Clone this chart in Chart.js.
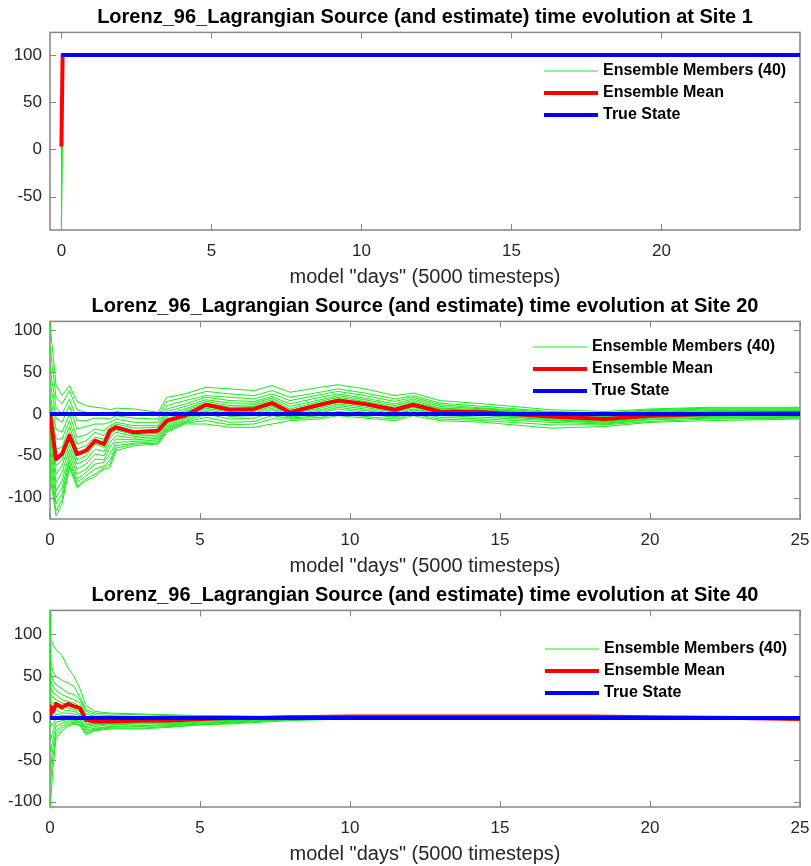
<!DOCTYPE html>
<html>
<head>
<meta charset="utf-8">
<title>Lorenz_96_Lagrangian source estimates</title>
<script src="https://cdn.jsdelivr.net/npm/chart.js@4.4.1/dist/chart.umd.min.js"></script>
<style>
  html, body { margin: 0; padding: 0; background: #fff; }
  #wrap { position: relative; width: 811px; height: 866px; }
  canvas { position: absolute; left: 0; }
</style>
</head>
<body>
<div id="wrap">
  <canvas id="site1" width="811" height="289" style="top:0"></canvas>
  <canvas id="site20" width="811" height="289" style="top:289px"></canvas>
  <canvas id="site40" width="811" height="288" style="top:578px"></canvas>
</div>
<script>
const xLabel = 'model "days" (5000 timesteps)';
const memberLabel = "Ensemble Members (40)";
const meanLabel = "Ensemble Mean";
const truthLabel = "True State";

const dayTicks = [0, 5, 10, 15, 20, 25];
const site1DayTicks = [0, 5, 10, 15, 20];
const site1ValueTicks = [-50, 0, 50, 100];
const valueTicks = [-100, -50, 0, 50, 100];

// ---- Site 1: everything snaps to the true source after the first step
const site1Days = [0, 0.04, 25];
const site1Mean = [3, 100, 100];
const site1TruthDays = [0, 25];
const site1Truth = [100, 100];
const site1Members = [
  [-100, 100, 100], [-92, 100, 100], [-75, 100, 100], [-55, 100, 100],
  [-38, 100, 100], [-22, 100, 100], [-8, 100, 100], [0, 100, 100],
  [8, 100, 100], [15, 100, 100], [25, 100, 100], [35, 100, 100],
  [45, 100, 100], [60, 100, 100], [75, 100, 100], [100, 100, 100]
];

// ---- Site 20
const site20Days = [0, 0.2, 0.4, 0.65, 0.9, 1.2, 1.5, 1.8, 2.0, 2.2, 2.8, 3.6, 3.9, 4.5, 5.2, 6.0,
  6.8, 7.4, 8.0, 9.0, 9.6, 10.5, 11.5, 12.1, 13.0, 14.5, 16.7, 18.5, 20.0, 22.0, 25.0];
const site20Mean = [0, -54, -48, -26, -48, -44, -32, -36, -20, -16, -22, -20, -8, -2, 11, 5,
  6, 13, 2, 11, 16, 12, 5, 11, 3, 2, -3, -6, -2, 0, 1];
const site20TruthDays = [0, 25];
const site20Truth = [0, 0];
const site20Members = [
  [108, 35, 22, 34, 15, 10, 8, 7, 5, 7, 6, 2, 20, 24, 32, 30, 28, 34, 26, 32, 35, 30, 22, 25, 16, 12, 5, 3, 6, 8, 8],
  [80, 20, 12, 28, 5, 2, 0, 2, 0, 3, 0, -2, 15, 20, 27, 24, 22, 28, 20, 26, 30, 25, 18, 22, 13, 9, 3, 1, 5, 7, 7],
  [55, 8, 0, 18, -8, -8, -5, -5, -6, -2, -5, -6, 10, 16, 22, 20, 18, 24, 16, 23, 27, 22, 15, 20, 11, 7, 2, 0, 4, 6, 6],
  [40, -5, -10, 10, -18, -15, -12, -12, -10, -6, -10, -10, 6, 12, 20, 16, 15, 21, 12, 20, 24, 19, 12, 18, 9, 6, 1, -1, 3, 5, 5],
  [25, -18, -22, 0, -28, -25, -18, -20, -14, -10, -14, -14, 3, 9, 17, 13, 13, 19, 9, 17, 22, 17, 10, 16, 7, 5, 0, -2, 2, 4, 4],
  [15, -30, -30, -8, -36, -32, -22, -26, -16, -12, -17, -16, 0, 6, 15, 10, 11, 17, 6, 15, 20, 15, 8, 14, 6, 4, -1, -3, 1, 3, 3],
  [5, -42, -40, -15, -42, -38, -28, -30, -18, -14, -20, -19, -3, 4, 13, 8, 9, 15, 4, 13, 18, 13, 6, 12, 4, 3, -2, -4, 0, 2, 2],
  [0, -52, -48, -22, -48, -44, -32, -35, -20, -16, -22, -20, -6, 2, 11, 6, 7, 13, 2, 11, 16, 12, 5, 11, 3, 2, -3, -6, -1, 1, 2],
  [-8, -62, -55, -30, -55, -50, -36, -40, -24, -19, -25, -23, -9, 0, 9, 4, 5, 11, 1, 9, 14, 10, 3, 9, 2, 1, -4, -7, -2, 0, 1],
  [-15, -72, -62, -36, -60, -55, -42, -45, -28, -22, -27, -25, -12, -3, 7, 2, 3, 9, 0, 7, 12, 8, 2, 8, 1, 0, -5, -8, -3, -1, 0],
  [-25, -82, -70, -42, -66, -60, -48, -50, -34, -26, -29, -27, -14, -5, 5, 0, 1, 7, -2, 5, 10, 6, 0, 6, 0, -1, -6, -9, -4, -2, -1],
  [-35, -92, -80, -48, -72, -66, -54, -55, -40, -30, -31, -29, -16, -7, 3, -3, -2, 5, -3, 3, 8, 4, -1, 5, -1, -2, -7, -10, -5, -3, -2],
  [-45, -100, -88, -54, -78, -70, -60, -58, -48, -34, -33, -31, -17, -9, 0, -6, -5, 2, -4, 1, 6, 2, -3, 3, -2, -4, -8, -11, -6, -4, -3],
  [-55, -108, -95, -58, -82, -74, -66, -62, -55, -38, -35, -33, -19, -10, -4, -10, -9, -2, -5, -2, 3, 0, -4, 2, -4, -6, -10, -12, -7, -5, -4],
  [-65, -116, -102, -62, -86, -78, -72, -64, -60, -41, -36, -35, -20, -11, -8, -13, -12, -6, -6, -4, 0, -3, -6, 0, -6, -8, -13, -13, -9, -6, -5],
  [-75, -122, -108, -64, -88, -80, -75, -66, -64, -44, -38, -36, -22, -12, -12, -16, -16, -12, -8, -6, -2, -5, -8, -2, -8, -10, -17, -15, -10, -8, -6]
];

// ---- Site 40
const site40Days = [0, 0.02, 0.1, 0.2, 0.4, 0.6, 0.8, 1.0, 1.2, 1.5, 2.0, 3.0, 4.0, 5.0, 6.0, 7.0,
  8.0, 10, 12, 15, 18, 20, 23, 25];
const site40Mean = [2, 14, 8, 17, 13, 17, 14, 12, -2, -4, -4, -3, -3, -1, 0, 0, 1, 2, 2, 2, 2, 1, 0, -1];
const site40TruthDays = [0, 25];
const site40Truth = [0, 0];
const site40Members = [
  [128, 95, 88, 82, 75, 60, 50, 35, 15, 8, 6, 5, 4, 3, 3, 2, 3, 3, 3, 2, 3, 2, 1, 0],
  [90, 70, 55, 50, 45, 42, 38, 25, 10, 6, 5, 4, 3, 3, 2, 2, 2, 3, 3, 2, 2, 2, 1, 0],
  [70, 55, 45, 40, 35, 30, 28, 22, 8, 4, 3, 2, 2, 2, 1, 1, 2, 2, 3, 2, 2, 1, 1, 0],
  [55, 45, 38, 33, 28, 25, 22, 18, 5, 2, 1, 1, 1, 1, 1, 1, 1, 2, 2, 2, 2, 1, 0, -1],
  [45, 38, 30, 28, 22, 20, 18, 14, 2, 0, -1, 0, 0, 0, 0, 0, 1, 2, 2, 2, 2, 1, 0, -1],
  [35, 30, 25, 22, 18, 16, 14, 12, 0, -2, -2, -1, -1, -1, 0, 0, 1, 2, 2, 2, 2, 1, 0, -1],
  [28, 22, 18, 18, 14, 12, 10, 8, -2, -3, -3, -2, -2, -1, -1, 0, 1, 2, 2, 1, 1, 1, 0, -1],
  [20, 15, 12, 14, 10, 9, 8, 5, -4, -5, -4, -3, -3, -2, -1, 0, 1, 2, 2, 1, 1, 1, 0, -1],
  [12, 8, 5, 10, 6, 6, 5, 3, -6, -6, -5, -4, -4, -2, -2, -1, 0, 1, 2, 1, 1, 1, 0, -1],
  [5, 0, -2, 5, 3, 3, 3, 0, -8, -7, -6, -5, -5, -3, -2, -1, 0, 1, 1, 1, 1, 0, 0, -1],
  [-5, -10, -8, 0, 0, 0, 0, -2, -10, -8, -7, -6, -6, -4, -3, -2, 0, 1, 1, 1, 1, 0, -1, -1],
  [-20, -25, -15, -5, -3, -2, -2, -4, -12, -10, -8, -7, -7, -5, -4, -2, -1, 1, 1, 1, 1, 0, -1, -1],
  [-35, -40, -25, -10, -6, -4, -3, -5, -14, -12, -10, -9, -8, -6, -5, -3, -1, 0, 1, 1, 0, 0, -1, -2],
  [-55, -60, -35, -15, -9, -6, -5, -6, -16, -13, -11, -10, -9, -7, -5, -3, -2, 0, 0, 0, 0, 0, -1, -2],
  [-80, -75, -45, -20, -12, -8, -6, -8, -18, -14, -12, -12, -10, -8, -6, -4, -2, -1, 0, 0, 0, 0, -1, -2],
  [-106, -100, -60, -25, -15, -10, -7, -9, -20, -15, -13, -13, -11, -8, -7, -5, -3, -1, 0, 0, 0, 0, -1, -2]
];

const FONT = "'Liberation Sans', Arial, Helvetica, sans-serif";
const TICK_COLOR = "#262626";
const AXIS_COLOR = "#858585";

const panels = [
  {
    canvas: "site1", site: 1,
    days: site1Days, members: site1Members, mean: site1Mean,
    truthDays: site1TruthDays, truth: site1Truth,
    xRange: [-0.38, 24.62], yRange: [-85.3, 124],
    xTicks: site1DayTicks, yTicks: site1ValueTicks,
    legend: { x: 544, y: 71 }
  },
  {
    canvas: "site20", site: 20,
    days: site20Days, members: site20Members, mean: site20Mean,
    truthDays: site20TruthDays, truth: site20Truth,
    xRange: [0, 25], yRange: [-125.7, 110.8],
    xTicks: dayTicks, yTicks: valueTicks,
    legend: { x: 533, y: 58 }
  },
  {
    canvas: "site40", site: 40,
    days: site40Days, members: site40Members, mean: site40Mean,
    truthDays: site40TruthDays, truth: site40Truth,
    xRange: [0, 25], yRange: [-106.3, 128.8],
    xTicks: dayTicks, yTicks: valueTicks,
    legend: { x: 545, y: 71 }
  }
];

function toPoints(days, values) {
  return days.map((d, i) => ({ x: d, y: values[i] }));
}

// matlab style box with inward ticks on all four sides
const axesBox = {
  id: "axesBox",
  beforeDatasetsDraw(chart) {
    const { ctx, chartArea: a, scales: { x, y } } = chart;
    const len = 6;
    ctx.save();
    ctx.strokeStyle = AXIS_COLOR;
    ctx.lineWidth = 1;
    ctx.beginPath();
    x.ticks.forEach(t => {
      const px = Math.round(x.getPixelForValue(t.value)) + 0.5;
      ctx.moveTo(px, a.bottom); ctx.lineTo(px, a.bottom - len);
      ctx.moveTo(px, a.top); ctx.lineTo(px, a.top + len);
    });
    y.ticks.forEach(t => {
      const py = Math.round(y.getPixelForValue(t.value)) + 0.5;
      ctx.moveTo(a.left, py); ctx.lineTo(a.left + len, py);
      ctx.moveTo(a.right, py); ctx.lineTo(a.right - len, py);
    });
    ctx.stroke();
    ctx.lineWidth = 1.5;
    ctx.strokeRect(a.left, a.top, a.right - a.left, a.bottom - a.top);
    ctx.restore();
  }
};

// legend sitting inside the axes, no frame
const insetLegend = {
  id: "insetLegend",
  afterDatasetsDraw(chart, args, opts) {
    const ctx = chart.ctx;
    const entries = chart.data.datasets.filter(ds => ds.showInLegend);
    ctx.save();
    ctx.font = "bold 16px " + FONT;
    ctx.textBaseline = "middle";
    ctx.fillStyle = "#000";
    entries.forEach((ds, i) => {
      const yy = opts.y + i * 22;
      ctx.strokeStyle = ds.borderColor;
      ctx.lineWidth = ds.borderWidth;
      ctx.beginPath();
      ctx.moveTo(opts.x, yy);
      ctx.lineTo(opts.x + 54, yy);
      ctx.stroke();
      ctx.fillText(ds.label, opts.x + 59, yy);
    });
    ctx.restore();
  }
};

function buildChart(p) {
  const datasets = p.members.map((m, i) => ({
    label: memberLabel,
    showInLegend: i === 0,
    data: toPoints(p.days, m),
    borderColor: "rgb(25,235,25)",
    borderWidth: 1,
    order: 2
  }));
  datasets.push({
    label: meanLabel,
    showInLegend: true,
    data: toPoints(p.days, p.mean),
    borderColor: "#ff0000",
    borderWidth: 4,
    order: 1
  });
  datasets.push({
    label: truthLabel,
    showInLegend: true,
    data: toPoints(p.truthDays, p.truth),
    borderColor: "#0000ff",
    borderWidth: 4,
    order: 0
  });

  return new Chart(document.getElementById(p.canvas), {
    type: "line",
    data: { datasets },
    options: {
      responsive: false,
      animation: false,
      devicePixelRatio: 1,
      elements: { point: { radius: 0 }, line: { tension: 0, borderJoinStyle: "round" } },
      layout: { padding: { left: 0, right: 11, top: 0, bottom: 0 } },
      plugins: {
        legend: { display: false },
        tooltip: { enabled: false },
        title: {
          display: true,
          fullSize: false,
          text: "Lorenz_96_Lagrangian Source (and estimate) time evolution at Site " + p.site,
          color: "#000",
          font: { family: FONT, size: 20, weight: "bold", lineHeight: 1.2 },
          padding: { top: 5, bottom: 3.4 }
        },
        insetLegend: p.legend
      },
      scales: {
        x: {
          type: "linear",
          min: p.xRange[0],
          max: p.xRange[1],
          afterBuildTicks: s => { s.ticks = p.xTicks.map(v => ({ value: v })); },
          afterFit: s => {
            s.height = 59;
            // the last tick label may poke past the box edge; don't shrink the plot for it
            s.paddingLeft = 0;
            s.paddingRight = 0;
          },
          grid: { display: false, drawTicks: false },
          border: { display: false },
          ticks: {
            padding: 11, color: TICK_COLOR, autoSkip: false, maxRotation: 0,
            font: { family: FONT, size: 17 },
            callback: v => String(v)
          },
          title: {
            display: true, text: xLabel, color: TICK_COLOR,
            font: { family: FONT, size: 20 },
            padding: { top: 0, bottom: 0 }
          }
        },
        y: {
          type: "linear",
          min: p.yRange[0],
          max: p.yRange[1],
          afterBuildTicks: s => { s.ticks = p.yTicks.map(v => ({ value: v })); },
          afterFit: s => { s.width = 50; },
          grid: { display: false, drawTicks: false },
          border: { display: false },
          ticks: {
            padding: 8, color: TICK_COLOR, autoSkip: false,
            font: { family: FONT, size: 17 },
            callback: v => String(v)
          }
        }
      }
    },
    plugins: [axesBox, insetLegend]
  });
}

panels.forEach(buildChart);
</script>
</body>
</html>
